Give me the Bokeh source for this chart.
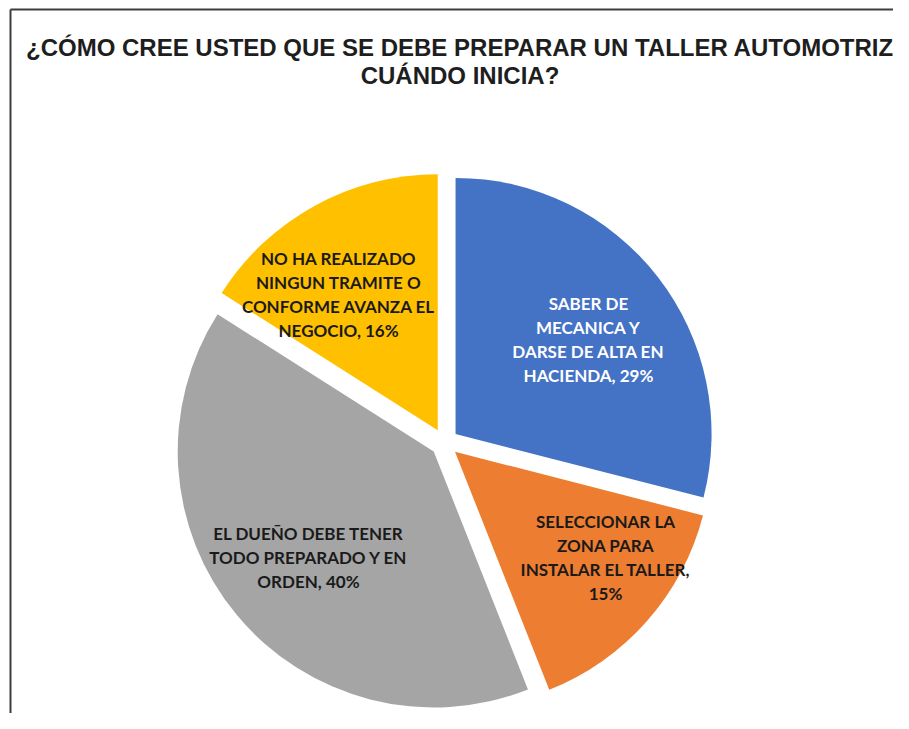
import numpy as np
from bokeh.plotting import figure
from bokeh.models import Range1d
from bokeh.core.properties import value
from bokeh.embed import file_html
from bokeh.resources import INLINE

# ---- data ----
categories = ["SABER DE MECANICA Y DARSE DE ALTA EN HACIENDA",
              "SELECCIONAR LA ZONA PARA INSTALAR EL TALLER",
              "EL DUEÑO DEBE TENER TODO PREPARADO Y EN ORDEN",
              "NO HA REALIZADO NINGUN TRAMITE O CONFORME AVANZA EL NEGOCIO"]
percents = [29, 15, 40, 16]
data_labels = ["SABER DE\nMECANICA Y\nDARSE DE ALTA EN\nHACIENDA, 29%",
               "SELECCIONAR LA\nZONA PARA\nINSTALAR EL TALLER,\n15%",
               "EL DUEÑO DEBE TENER\nTODO PREPARADO Y EN\nORDEN, 40%",
               "NO HA REALIZADO\nNINGUN TRAMITE O\nCONFORME AVANZA EL\nNEGOCIO, 16%"]
title_lines = ["¿CÓMO CREE USTED QUE SE DEBE PREPARAR UN TALLER AUTOMOTRIZ",
               "CUÁNDO INICIA?"]

# ---- styles ----
colors = ["#4472C4", "#ED7D31", "#A5A5A5", "#FFC000"]
text_colors = ["#FFFFFF", "#1A1A1A", "#1A1A1A", "#1A1A1A"]
label_r_frac = [0.637, 0.718, 0.641, 0.656]
label_ang_off = [2.2, -5.9, -0.6, -6.8]

W, H = 893, 713
cx, cy = 444, 271
R = 256
explode = 14

p = figure(width=W, height=H, output_backend="svg", toolbar_location=None,
           x_range=Range1d(0, W), y_range=Range1d(0, H), min_border=0)
p.axis.visible = False
p.grid.visible = False
p.outline_line_color = None
p.background_fill_color = "white"
p.border_fill_color = "white"

vals = np.array(percents, dtype=float)
frac = vals / vals.sum()
ends = np.cumsum(frac) * 2 * np.pi   # clockwise from top
starts = ends - frac * 2 * np.pi
mids = (starts + ends) / 2

xs = cx + explode * np.sin(mids)
ys = cy + explode * np.cos(mids)
p.wedge(x=xs, y=ys, radius=R,
        start_angle=np.pi / 2 - ends, end_angle=np.pi / 2 - starts,
        fill_color=colors, line_color=None)

lang = mids + np.radians(label_ang_off)
lr = R * np.array(label_r_frac) + explode
lx = cx + lr * np.sin(lang)
ly = cy + lr * np.cos(lang)
p.text(x=lx, y=ly, text=data_labels, text_align="center", text_baseline="middle",
       text_font=value("Lato"), text_font_style="bold", text_font_size="17px",
       text_line_height=1.15, text_color=text_colors)

# title
p.text(x=[459.5, 459.5], y=[666, 638], text=title_lines, text_align="center",
       text_baseline="middle", text_font=value("Liberation Sans"),
       text_font_style="bold", text_font_size="24px", text_color="#1E1E1E")

# frame (top and left edges visible)
fx, fy = 10, H - 9
p.segment(x0=[fx, fx], y0=[0, fy], x1=[fx, W], y1=[fy, fy],
          line_color="#3C3C3C", line_width=2)

open("out.html", "w").write(file_html(p, INLINE))
